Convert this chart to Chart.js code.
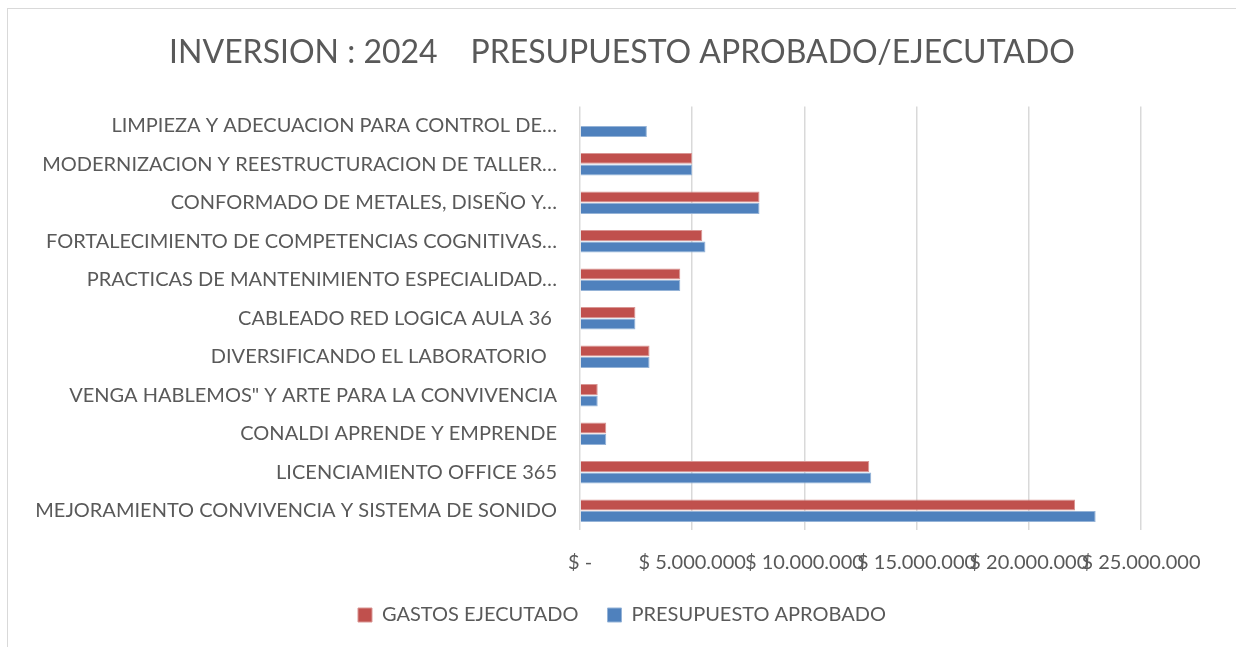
<!DOCTYPE html>
<html>
<head>
<meta charset="utf-8">
<script src="https://cdn.jsdelivr.net/npm/chart.js@4"></script>
<style>
  html, body { margin: 0; padding: 0; background: #fff; overflow: hidden; }
  #wrap {
    position: absolute; left: 7px; top: 8px;
    width: 1240px; height: 670px;
    border: 1px solid #d9d9d9; box-sizing: border-box;
  }
  #chart { position: absolute; left: 0; top: 0; }
</style>
</head>
<body>
<div id="wrap"><canvas id="chart" width="1228" height="626"></canvas></div>
<script>
// Project names (top to bottom, as Excel truncated them)
const projects = [
  "LIMPIEZA Y ADECUACION PARA CONTROL DE…",
  "MODERNIZACION Y REESTRUCTURACION DE TALLER…",
  "CONFORMADO DE METALES, DISEÑO Y…",
  "FORTALECIMIENTO DE COMPETENCIAS COGNITIVAS…",
  "PRACTICAS DE MANTENIMIENTO ESPECIALIDAD…",
  "CABLEADO RED LOGICA AULA 36 ",
  "DIVERSIFICANDO EL LABORATORIO  ",
  "VENGA HABLEMOS\" Y ARTE PARA LA CONVIVENCIA",
  "CONALDI APRENDE Y EMPRENDE",
  "LICENCIAMIENTO OFFICE 365",
  "MEJORAMIENTO CONVIVENCIA Y SISTEMA DE SONIDO"
];

// Executed spending (pesos)
const gastosEjecutado = [
  0, 5000000, 8000000, 5450000, 4470000, 2470000,
  3100000, 790000, 1170000, 12890000, 22060000
];

// Approved budget (pesos)
const presupuestoAprobado = [
  2980000, 5000000, 8000000, 5590000, 4470000, 2470000,
  3100000, 790000, 1170000, 12980000, 22980000
];

const xTicks = [0, 5000000, 10000000, 15000000, 20000000, 25000000];

const colors = {
  red: "#C0504D",
  blue: "#4F81BD",
  text: "#595959",
  grid: "#d9d9d9"
};

const FONT = "Lato, 'Open Sans', sans-serif";

function formatPesos(v) {
  if (v === 0) return "$ -";
  return "$ " + String(v).replace(/\B(?=(\d{3})+(?!\d))/g, ".");
}

const ctx = document.getElementById("chart").getContext("2d");

new Chart(ctx, {
  type: "bar",
  data: {
    labels: projects,
    datasets: [
      {
        label: "GASTOS EJECUTADO",
        data: gastosEjecutado,
        backgroundColor: colors.red,
        borderColor: "#d99694",
        borderWidth: 1,
        categoryPercentage: 0.6,
        barPercentage: 0.95
      },
      {
        label: "PRESUPUESTO APROBADO",
        data: presupuestoAprobado,
        backgroundColor: colors.blue,
        borderColor: "#95b3d7",
        borderWidth: 1,
        categoryPercentage: 0.6,
        barPercentage: 0.95
      }
    ]
  },
  options: {
    indexAxis: "y",
    responsive: false,
    animation: false,
    layout: { padding: 0 },
    scales: {
      x: {
        min: 0,
        max: 25000000,
        afterBuildTicks: function (scale) {
          scale.ticks = xTicks.map((v) => ({ value: v }));
        },
        afterFit: function (scale) {
          // leave Excel's empty strip right of the plot
          scale.paddingRight = 95;
          // padding only above the labels, not below
          scale.height = 46;
        },
        grid: { color: colors.grid, lineWidth: 1.5, drawTicks: false },
        border: { display: false },
        ticks: {
          autoSkip: false,
          maxRotation: 0,
          padding: 21,
          color: colors.text,
          font: { family: FONT, size: 20 },
          callback: function (value) {
            return formatPesos(value);
          }
        }
      },
      y: {
        afterFit: function (scale) {
          scale.width = 572;
        },
        grid: { display: false },
        border: { display: false },
        ticks: {
          padding: 15,
          color: colors.text,
          font: { family: FONT, size: 20 }
        }
      }
    },
    plugins: {
      title: {
        display: true,
        text: "INVERSION : 2024    PRESUPUESTO APROBADO/EJECUTADO",
        color: colors.text,
        font: { family: FONT, size: 32, weight: "normal" },
        padding: { top: 24, bottom: 35 }
      },
      legend: {
        position: "bottom",
        labels: {
          boxWidth: 14,
          boxHeight: 14,
          padding: 29,
          color: colors.text,
          font: { family: FONT, size: 20 }
        }
      },
      tooltip: { enabled: false }
    }
  }
});
</script>
</body>
</html>
